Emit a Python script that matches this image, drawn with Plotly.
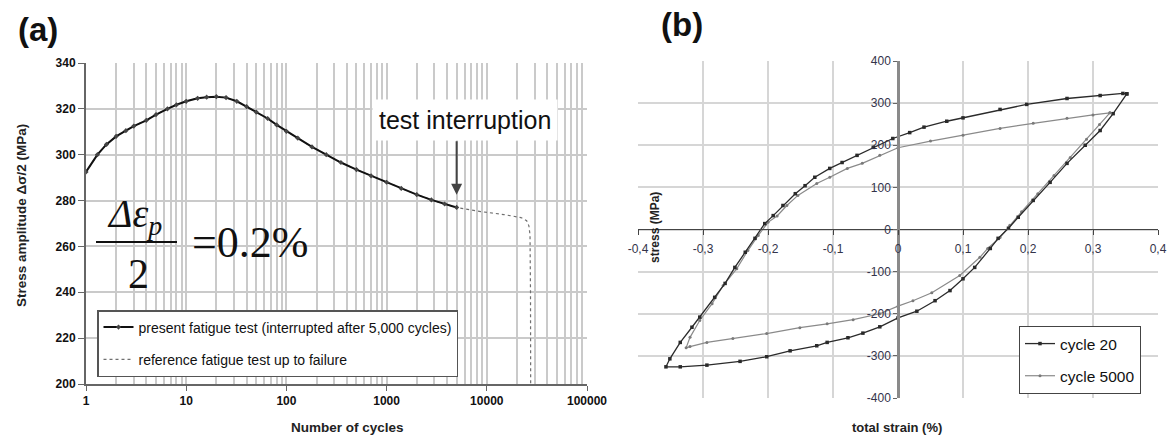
import plotly.graph_objects as go

# ---------------- data: panel (a) ----------------
present_cycles = [1, 1.3, 1.6, 2, 2.5, 3, 4, 5, 6.5, 8, 10, 13, 16, 20, 25, 32, 40, 50, 65, 80,
                  100, 130, 180, 250, 350, 500, 700, 1000, 1400, 2000, 2800, 3800, 5000]
present_stress = [292.5, 300, 304.5, 308, 310.5, 312.5, 315, 317.5, 320, 321.8, 323.3, 324.6, 325.1,
                  325.3, 324.9, 323.3, 321, 318.6, 315.8, 313, 310.2, 307.2, 303.4, 300, 296.6, 293.5,
                  290.8, 288, 285.3, 282.6, 280.3, 278.5, 277]

# reference test: follows the same curve up to 5,000 cycles, then continues to failure
reference_tail_cycles = [8700, 14800, 21900, 25000, 26300, 27000, 27300, 27400]
reference_tail_stress = [275.2, 273.9, 272.6, 271.2, 269, 265, 240, 200]

a_tickvals = [1, 10, 100, 1000, 10000, 100000]
a_ticktext = ["1", "10", "100", "1000", "10000", "100000"]
a_yticks = [200, 220, 240, 260, 280, 300, 320, 340]

# ---------------- data: panel (b) ----------------
c20_strain = [0.352, 0.331, 0.311, 0.288, 0.26, 0.234, 0.208, 0.185, 0.17, 0.154, 0.142, 0.118, 0.1,
              0.08, 0.057, 0.029, 0.0, -0.028, -0.054, -0.077, -0.109, -0.125, -0.166, -0.202, -0.243,
              -0.294, -0.335, -0.357,
              -0.351, -0.335, -0.317, -0.305, -0.282, -0.266, -0.251, -0.235, -0.22, -0.205, -0.192,
              -0.177, -0.158, -0.143, -0.128, -0.105, -0.086, -0.063, -0.038, -0.008, 0.018, 0.04,
              0.075, 0.1, 0.157, 0.198, 0.26, 0.311, 0.346, 0.352]
c20_stress = [322, 275, 235, 200, 157, 112, 69, 29, 3, -21, -45, -90, -117,
              -145, -169, -194, -210, -231, -246, -257, -268, -276, -288, -302, -313,
              -322, -326, -326,
              -307, -268, -232, -208, -161, -128, -90, -54, -21, 14, 33,
              57, 85, 104, 124, 145, 159, 176, 195, 216, 230, 243,
              257, 265, 285, 297, 311, 318, 323, 322]

c5000_strain = [0.326, 0.31, 0.29, 0.265, 0.24, 0.215, 0.19, 0.172, 0.157, 0.138, 0.126, 0.095, 0.052,
                0.023, 0.0, -0.028, -0.069, -0.109, -0.151, -0.202, -0.254, -0.294, -0.32, -0.326,
                -0.32, -0.305, -0.286, -0.269, -0.248, -0.231, -0.215, -0.2, -0.186, -0.171, -0.154,
                -0.125, -0.105, -0.078, -0.055, -0.028, 0.0, 0.05, 0.1, 0.157, 0.208, 0.26, 0.3, 0.326]
c5000_stress = [277, 249, 214, 171, 128, 85, 42, 10, -19, -45, -66, -109, -150,
                -169, -182, -200, -214, -224, -233, -247, -259, -268, -278, -281,
                -256, -216, -176, -133, -93, -50, -14, 17, 32, 57, 81,
                109, 124, 145, 157, 176, 194, 210, 224, 240, 252, 264, 272, 277]

b_xtickvals = [-0.4, -0.3, -0.2, -0.1, 0, 0.1, 0.2, 0.3, 0.4]
b_xticktext = ["-0,4", "-0,3", "-0,2", "-0,1", "0", "0,1", "0,2", "0,3", "0,4"]
b_ytickvals = [-400, -300, -200, -100, 0, 100, 200, 300, 400]
b_yticktext = ["-400", "-300", "-200", "-100", "0", "100", "200", "300", "400"]

# ---------------- layout helpers ----------------
W, H = 1176, 437
SANS = "Liberation Sans, Arial, sans-serif"
SERIF = "Liberation Serif, Times New Roman, serif"


def fx(p):
    return p / W


def fy(p):
    return 1 - p / H


minor_vals = [m * 10 ** e for e in range(0, 5) for m in range(2, 10)]

fig = go.Figure()

fig.add_trace(go.Scatter(
    x=present_cycles + reference_tail_cycles, y=present_stress + reference_tail_stress,
    mode="lines",
    line=dict(color="#707070", width=1.2, dash="dot"),
    name="reference fatigue test up to failure",
    xaxis="x", yaxis="y", legend="legend", legendgroup="ref", legendrank=2))
fig.add_trace(go.Scatter(
    x=present_cycles, y=present_stress, mode="lines+markers",
    line=dict(color="#111111", width=2),
    marker=dict(symbol="diamond", size=4, color="#444444"),
    name="present fatigue test (interrupted after 5,000 cycles)",
    xaxis="x", yaxis="y", legend="legend", legendgroup="pres", legendrank=1))

fig.add_trace(go.Scatter(
    x=c5000_strain, y=c5000_stress, mode="lines+markers",
    line=dict(color="#8a8a8a", width=1.2),
    marker=dict(symbol="circle", size=3, color="#7a7a7a"),
    name="cycle 5000", xaxis="x2", yaxis="y2", legend="legend2",
    legendgroup="c5000", legendrank=2))
fig.add_trace(go.Scatter(
    x=c20_strain, y=c20_stress, mode="lines+markers",
    line=dict(color="#2a2a2a", width=1.3),
    marker=dict(symbol="square", size=3.5, color="#2a2a2a"),
    name="cycle 20", xaxis="x2", yaxis="y2", legend="legend2",
    legendgroup="c20", legendrank=1))

grid_a = "#cacaca"
grid_b = "#d6d6d6"

fig.update_layout(
    width=W, height=H,
    margin=dict(l=0, r=0, t=0, b=0, pad=0, autoexpand=False),
    paper_bgcolor="white", plot_bgcolor="white",
    font=dict(family=SANS, color="#111111"),
    xaxis=dict(
        type="log", range=[0, 5], domain=[fx(86), fx(587)], anchor="y", automargin=False,
        tickmode="array", tickvals=a_tickvals, ticktext=a_ticktext,
        showgrid=True, gridcolor=grid_a, gridwidth=2,
        minor=dict(tickmode="array", tickvals=minor_vals, showgrid=True,
                   gridcolor=grid_a, gridwidth=2, ticks=""),
        showline=True, linecolor="#666666", linewidth=2,
        ticks="outside", ticklen=5, tickcolor="#666666",
        tickfont=dict(family=SANS, size=12, color="#111111", weight="bold"),
        zeroline=False,
    ),
    yaxis=dict(
        range=[200, 340], domain=[fy(384), fy(63)], anchor="x", automargin=False,
        tickmode="array", tickvals=a_yticks,
        showgrid=True, gridcolor=grid_a, gridwidth=2,
        showline=True, linecolor="#666666", linewidth=2,
        ticks="outside", ticklen=6, tickcolor="#666666",
        tickfont=dict(family=SANS, size=12, color="#111111", weight="bold"),
        zeroline=False,
    ),
    xaxis2=dict(
        range=[-0.4, 0.4], domain=[fx(638), fx(1158)], anchor="free", position=fy(229),
        automargin=False,
        tickmode="array", tickvals=b_xtickvals, ticktext=b_xticktext,
        showgrid=True, gridcolor=grid_b, gridwidth=1.5,
        showline=True, linecolor="#444444", linewidth=1,
        ticks="outside", ticklen=5, tickcolor="#444444", ticklabelstandoff=4,
        tickfont=dict(family=SANS, size=12, color="#33334a"),
        zeroline=False,
    ),
    yaxis2=dict(
        range=[-400, 400], domain=[fy(398), fy(61)], anchor="free", position=fx(898),
        automargin=False,
        tickmode="array", tickvals=b_ytickvals, ticktext=b_yticktext,
        showgrid=True, gridcolor=grid_b, gridwidth=1.5,
        showline=True, linecolor="#8a8a8a", linewidth=2.5,
        ticks="outside", ticklen=4, tickcolor="#666666",
        tickfont=dict(family=SANS, size=12, color="#33334a"),
        zeroline=False,
    ),
    legend=dict(
        x=fx(97), y=fy(310), xanchor="left", yanchor="top",
        bgcolor="white", bordercolor="#555555", borderwidth=1.5,
        font=dict(family=SANS, size=14, color="#111111"),
        tracegroupgap=11, itemwidth=30, traceorder="grouped",
    ),
    legend2=dict(
        x=fx(1019), y=fy(326), xanchor="left", yanchor="top",
        bgcolor="white", bordercolor="#444444", borderwidth=1,
        font=dict(family=SANS, size=15.5, color="#111111"),
        tracegroupgap=9, itemwidth=30, traceorder="grouped",
    ),
    showlegend=True,
)


def txt(text, x, y, size, family=SANS, angle=0, **kw):
    return dict(text=text, x=fx(x), y=fy(y), xref="paper", yref="paper",
                xanchor="center", yanchor="middle", showarrow=False, textangle=angle,
                font=dict(family=family, size=size, color=kw.pop("color", "#111111")), **kw)


annotations = [
    txt("<b>(a)</b>", 38, 29, 33),
    txt("<b>(b)</b>", 682, 24, 33),
    txt("<b>Stress amplitude \u0394\u03c3/2 (MPa)</b>", 22, 216, 13.5, angle=-90, color="#222222"),
    txt("<b>Number of cycles</b>", 347, 427, 13.5, color="#222222"),
    txt("<b>stress (MPa)</b>", 655, 228, 12, angle=-90, color="#222222"),
    txt("<b>total strain (%)</b>", 897, 427, 13, color="#222222"),
    txt("test interruption", 465, 120, 25, bgcolor="white", borderpad=6),
    dict(text="", x=3.699, y=282.5, xref="x", yref="y", ax=3.699, ay=306.5,
         axref="x", ayref="y", showarrow=True, arrowhead=2, arrowsize=1.1,
         arrowwidth=2, arrowcolor="#444444"),
    txt("<i>\u0394\u03b5<sub>p</sub></i>", 134, 216, 40, family=SERIF),
    txt("2", 138, 274, 42, family=SERIF),
    txt("=0.2%", 250, 242, 44, family=SERIF),
]
fig.update_layout(annotations=annotations)

fig.add_shape(type="line", xref="paper", yref="paper",
              x0=fx(96), x1=fx(177), y0=fy(242), y1=fy(242),
              line=dict(color="#111111", width=2))

fig.write_html("out.html")
